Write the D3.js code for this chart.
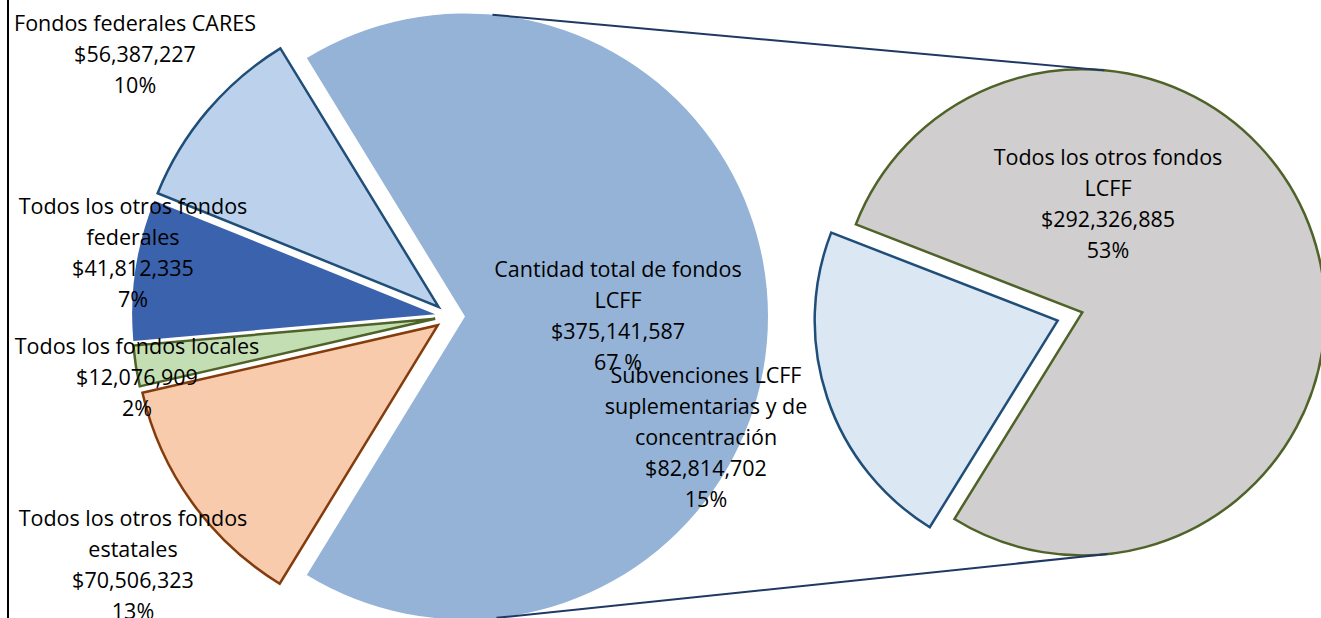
<!DOCTYPE html>
<html>
<head>
<meta charset="utf-8">
<script src="https://cdn.jsdelivr.net/npm/d3@7"></script>
<style>
    body { margin: 0; background: #fff; }
    svg { display: block; }
    .lbl { font-family: "Open Sans", "Noto Sans", sans-serif; font-size: 21.5px; fill: #000; }
</style>
</head>
<body>
<div id="chart"></div>
<script>
// first pie: order goes clockwise from the LCFF slice
const leftNames = [
    ['Cantidad total de fondos', 'LCFF'],
    ['Todos los otros fondos', 'estatales'],
    ['Todos los fondos locales'],
    ['Todos los otros fondos', 'federales'],
    ['Fondos federales CARES']
];
const leftValues = [375141587, 70506323, 12076909, 41812335, 56387227];
const leftPct = ['67 %', '13%', '2%', '7%', '10%'];

// second pie: breakdown of the LCFF slice
const rightNames = [
    ['Subvenciones LCFF', 'suplementarias y de', 'concentración'],
    ['Todos los otros fondos', 'LCFF']
];
const rightValues = [82814702, 292326885];
const rightPct = ['15%', '53%'];

const width = 1321, height = 618;
const deg = Math.PI / 180;

const leftStyle = [
    {fill: '#95b3d7', stroke: 'none'},
    {fill: '#f8cbad', stroke: '#843c0c'},
    {fill: '#c4deb3', stroke: '#4f6228'},
    {fill: '#3b62ad', stroke: 'none'},
    {fill: '#bcd2ec', stroke: '#1f4e79'}
];
const rightStyle = [
    {fill: '#dce7f4', stroke: '#1f4e79'},
    {fill: '#d0cece', stroke: '#4f6228'}
];
// label centre of first line, per slice
const leftLabelPos = [[618, 269], [133, 518], [137, 346], [133, 206], [135, 23]];
const rightLabelPos = [[706, 375], [1108, 157]];
const lineH = 31;

const L = {cx: 450, cy: 316.5, r: 303, explode: 15};
const R = {cx: 1070, cy: 316.5, r: 243, explode: 13};

const svg = d3.select('#chart').append('svg')
    .attr('width', width)
    .attr('height', height);

const fmt = d3.format('$,');

function offset(a, e) {
    const mid = (a.startAngle + a.endAngle) / 2;
    return [e * Math.sin(mid), -e * Math.cos(mid)];
}

// left pie, the big slice centred on the right side
const leftSpan0 = 2 * Math.PI * leftValues[0] / d3.sum(leftValues);
const leftStart = Math.PI / 2 - leftSpan0 / 2;
const leftArcs = d3.pie().sort(null)
    .startAngle(leftStart).endAngle(leftStart + 2 * Math.PI)(leftValues);

// right pie, small slice pointing down-left
const rightSpan0 = 2 * Math.PI * rightValues[0] / d3.sum(rightValues);
const rightStart = 251.5 * deg - rightSpan0 / 2;
const rightArcs = d3.pie().sort(null)
    .startAngle(rightStart).endAngle(rightStart + 2 * Math.PI)(rightValues);

const arcL = d3.arc().innerRadius(0).outerRadius(L.r);
const arcR = d3.arc().innerRadius(0).outerRadius(R.r);

svg.append('g')
    .selectAll('path')
    .data(leftArcs)
    .enter().append('path')
    .attr('d', arcL)
    .attr('transform', d => {
        const o = offset(d, L.explode);
        return `translate(${L.cx + o[0]},${L.cy + o[1]})`;
    })
    .attr('fill', (d, i) => leftStyle[i].fill)
    .attr('stroke', (d, i) => leftStyle[i].stroke)
    .attr('stroke-width', 2.5)
    .attr('stroke-linejoin', 'miter');

svg.append('g')
    .selectAll('path')
    .data(rightArcs)
    .enter().append('path')
    .attr('d', arcR)
    .attr('transform', d => {
        const o = offset(d, R.explode);
        return `translate(${R.cx + o[0]},${R.cy + o[1]})`;
    })
    .attr('fill', (d, i) => rightStyle[i].fill)
    .attr('stroke', (d, i) => rightStyle[i].stroke)
    .attr('stroke-width', 2.5);

// series lines: outer tangents between the LCFF slice and the second pie
const oA = offset(leftArcs[0], L.explode);
const oB = offset(rightArcs[1], R.explode);
const a = [L.cx + oA[0], L.cy + oA[1]];
const b = [R.cx + oB[0], R.cy + oB[1]];
const dx = b[0] - a[0], dy = b[1] - a[1];
const dist = Math.hypot(dx, dy);
const u = [dx / dist, dy / dist], n = [-u[1], u[0]];
const c = (L.r - R.r) / dist, s = Math.sqrt(1 - c * c);
[-1, 1].forEach(sign => {
    const N = [c * u[0] + sign * s * n[0], c * u[1] + sign * s * n[1]];
    svg.append('line')
        .attr('x1', a[0] + L.r * N[0]).attr('y1', a[1] + L.r * N[1])
        .attr('x2', b[0] + R.r * N[0]).attr('y2', b[1] + R.r * N[1])
        .attr('stroke', '#1f3864')
        .attr('stroke-width', 2);
});

// left border of the chart area
svg.append('line')
    .attr('x1', 8).attr('x2', 8)
    .attr('y1', 0).attr('y2', height)
    .attr('stroke', '#000')
    .attr('stroke-width', 2);

function addLabels(names, values, pct, pos) {
    names.forEach((lines, i) => {
        const all = [...lines, fmt(values[i]), pct[i]];
        const t = svg.append('text')
            .attr('class', 'lbl')
            .attr('text-anchor', 'middle');
        all.forEach((line, j) => {
            t.append('tspan')
                .attr('x', pos[i][0])
                .attr('y', pos[i][1] + j * lineH)
                .attr('dy', '0.35em')
                .text(line);
        });
    });
}
addLabels(leftNames, leftValues, leftPct, leftLabelPos);
addLabels(rightNames, rightValues, rightPct, rightLabelPos);
</script>
</body>
</html>
